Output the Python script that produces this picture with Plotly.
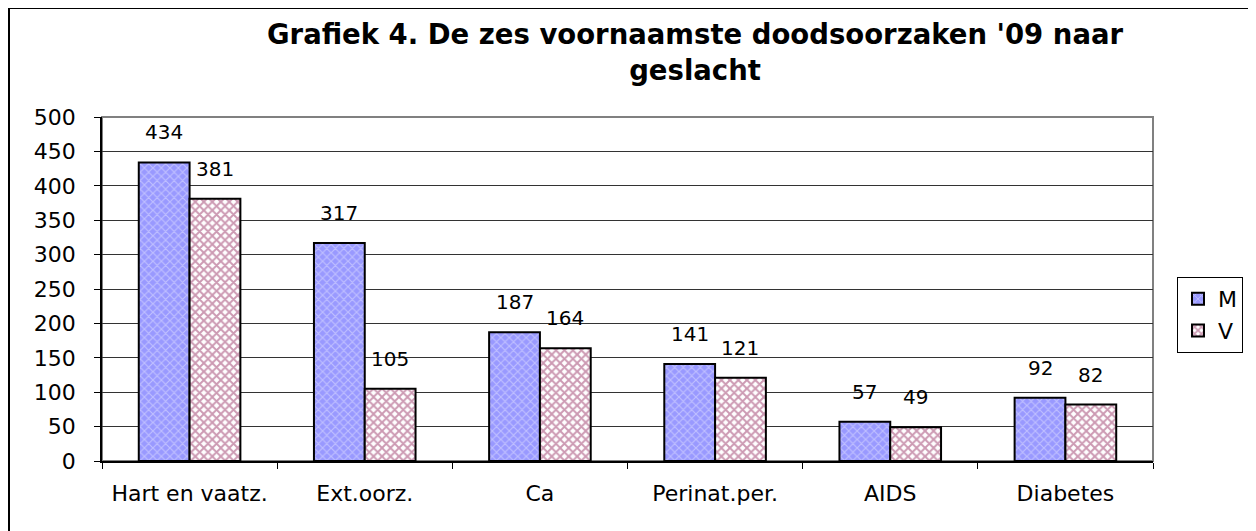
import plotly.graph_objects as go

categories = ["Hart en vaatz.", "Ext.oorz.", "Ca", "Perinat.per.", "AIDS", "Diabetes"]
men = [434, 317, 187, 141, 57, 92]
women = [381, 105, 164, 121, 49, 82]

font = "DejaVu Sans, Verdana, sans-serif"

# page body has an 8px margin, so the figure is drawn 8px smaller and shifted
W, H = 1248, 523
L, R, T, B = 94, 103, 109, 70
pw = W - L - R
ph = H - T - B

fig = go.Figure()
fig.add_trace(go.Bar(
    x=categories, y=men, name="M",
    marker=dict(color="#9999ff", line=dict(color="black", width=2),
                pattern=dict(shape="x", fgcolor="#e6e6ff", bgcolor="#9999ff",
                             size=6, solidity=0.35, fillmode="overlay")),
))
fig.add_trace(go.Bar(
    x=categories, y=women, name="V",
    marker=dict(color="white", line=dict(color="black", width=2),
                pattern=dict(shape="x", fgcolor="#993366", bgcolor="white",
                             size=6, solidity=0.55, fillmode="overlay")),
))

bargap = 0.42
bar_px = pw / len(categories) * (1 - bargap) / 2
labels = []
for vals, shift in [(men, -bar_px / 2), (women, bar_px / 2)]:
    for c, v in zip(categories, vals):
        labels.append(dict(x=c, y=v, text=str(v), showarrow=False,
                           xanchor="center", yanchor="bottom",
                           xshift=shift, yshift=16,
                           font=dict(size=20, family=font, color="black")))

labels.append(dict(
    text="<b>Grafiek 4. De zes voornaamste doodsoorzaken '09 naar<br>geslacht</b>",
    xref="paper", yref="paper", x=(687 - L) / pw, y=(H - B - 8) / ph,
    xanchor="center", yanchor="top", showarrow=False,
    font=dict(size=27.5, family=font, color="black"), align="center",
))

fig.update_layout(
    width=W, height=H,
    margin=dict(l=L, r=R, t=T, b=B),
    paper_bgcolor="white", plot_bgcolor="white",
    font=dict(family=font, size=22, color="black"),
    barmode="group", bargap=bargap, bargroupgap=0,
    showlegend=True,
    legend=dict(x=(1169 - L) / pw, y=(H - B - 269) / ph, xanchor="left", yanchor="top",
                bordercolor="black", borderwidth=1, bgcolor="white",
                font=dict(size=22), itemwidth=30, tracegroupgap=4),
    annotations=labels,
    shapes=[
        dict(type="rect", xref="paper", yref="paper", x0=0, x1=1, y0=0, y1=1,
             line=dict(color="#808080", width=2), layer="below"),
        dict(type="rect", xref="paper", yref="paper",
             x0=(1 - L) / pw, x1=(1244 - L) / pw,
             y0=(H - B - 540) / ph, y1=(H - B - 0) / ph,
             line=dict(color="black", width=2)),
    ],
)

fig.update_yaxes(
    range=[0, 500], dtick=50, showgrid=True, gridcolor="#333333", gridwidth=1,
    showline=True, linecolor="black", linewidth=1.5,
    ticks="outside", ticklen=6, tickcolor="black", ticklabelstandoff=14,
    zeroline=False, tickfont=dict(size=22),
)
fig.update_xaxes(
    showline=True, linecolor="black", linewidth=1.5,
    ticks="outside", tickson="boundaries", ticklen=6, tickcolor="black",
    ticklabelstandoff=12, tickfont=dict(size=22),
)

fig.write_html("out.html")
